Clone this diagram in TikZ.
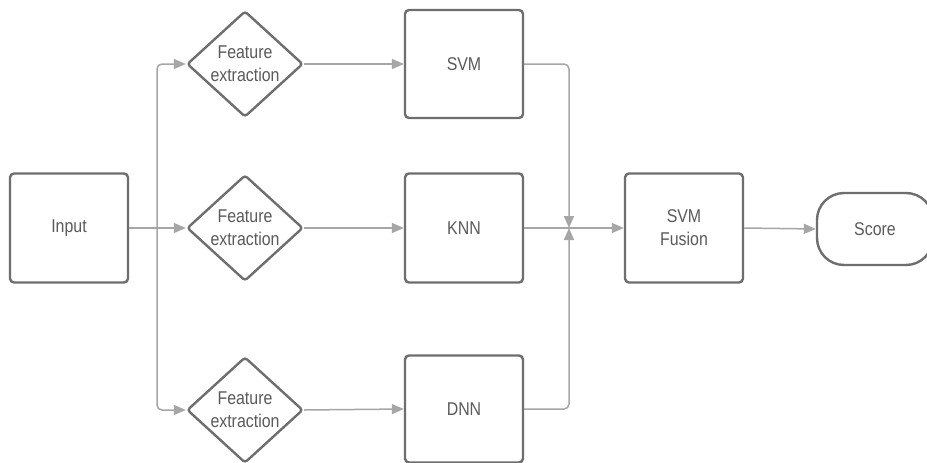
\documentclass[tikz,border=0pt]{standalone}
\usepackage{fontspec}
\setmainfont{Liberation Sans}[FakeStretch=0.86]
\usetikzlibrary{shapes.geometric,arrows.meta}
\definecolor{edgegray}{HTML}{6E6E6E}
\definecolor{linkgray}{HTML}{A6A6A6}
\definecolor{textgray}{HTML}{5A5A5A}
\tikzset{
  labelfont/.style={font=\fontsize{18.5}{23}\selectfont, text=textgray},
  box/.style={draw=edgegray, line width=2.4pt, rounded corners=4pt,
    minimum width=118pt, minimum height=109pt, inner sep=0pt,
    labelfont, align=center},
  decision/.style={draw=edgegray, line width=2.4pt, diamond, rounded corners=3pt,
    minimum width=116pt, minimum height=106pt, inner sep=0pt, aspect=1.1,
    labelfont, align=center},
  terminal/.style={draw=edgegray, line width=2.4pt, rounded corners=27pt,
    minimum width=116pt, minimum height=72pt, inner sep=0pt, labelfont},
  link/.style={draw=linkgray, line width=1.5pt, rounded corners=5pt,
    -{Triangle[length=12pt,width=10pt]}},
  plain/.style={draw=linkgray, line width=1.5pt, rounded corners=5pt}
}
\begin{document}
\begin{tikzpicture}[x=1pt,y=-1pt]
\useasboundingbox (0,0) rectangle (927,463);
\fill[white] (0,0) rectangle (927,463);

% input and the three feature branches
\node[box] (input) at (69,228) {Input};
\node[decision] (fe1) at (245,64) {Feature\\extraction};
\node[decision] (fe2) at (245,228) {Feature\\extraction};
\node[decision] (fe3) at (245,410) {Feature\\extraction};

% classifiers
\node[box, minimum height=108pt] (svm) at (464,64) {SVM};
\node[box] (knn) at (464,228) {KNN};
\node[box, minimum height=107pt] (dnn) at (464,409) {DNN};

% fusion and output
\node[box] (fusion) at (684,228) {SVM\\Fusion};
\node[terminal] (score) at (875,229) {Score};

% fan-out from the input
\coordinate (split) at (157,228);
\draw[plain] (input.east) -- (split);
\draw[link] (split) |- (fe1.west);
\draw[link] (split) -- (fe2.west);
\draw[link] (split) |- (fe3.west);

% features to classifiers
\draw[link] (fe1.east) -- (svm.west);
\draw[link] (fe2.east) -- (knn.west);
\draw[link] (fe3.east) -- (dnn.west);

% classifier outputs merge into the fusion stage
\coordinate (merge) at (569,228);
\draw[link] (svm.east) -| (merge);
\draw[link] (dnn.east) -| (merge);
\draw[link] (knn.east) -- (fusion.west);
\draw[link] (fusion.east) -- (score.west);
\end{tikzpicture}
\end{document}
